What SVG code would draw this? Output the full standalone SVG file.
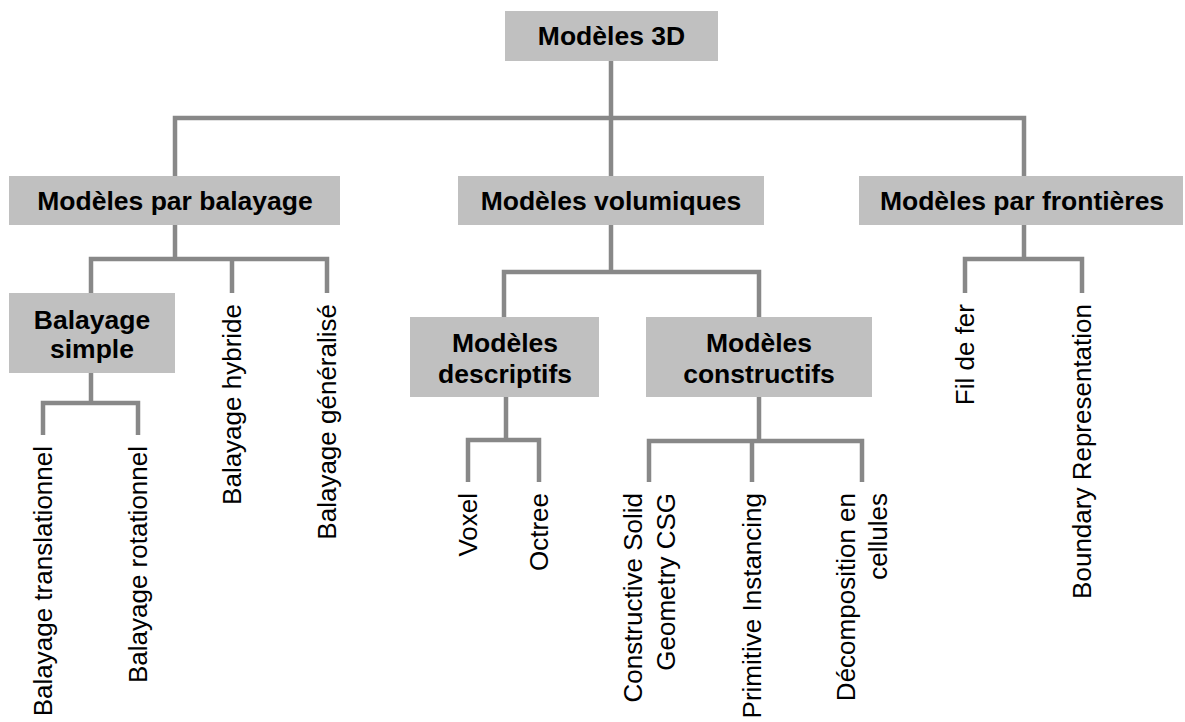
<svg xmlns="http://www.w3.org/2000/svg" width="1185" height="722" viewBox="0 0 1185 722">
  <style>
    .box { fill: #c0c0c0; }
    .title { font-family: "Liberation Sans", Arial, sans-serif; font-size: 26.5px; font-weight: bold; fill: #000; text-anchor: middle; }
    .leaf { font-family: "Liberation Sans", Arial, sans-serif; font-size: 26px; fill: #000; text-anchor: end; }
    .wire { fill: none; stroke: #888888; stroke-width: 4.5; stroke-linecap: butt; stroke-linejoin: miter; }
  </style>
  <rect width="1185" height="722" fill="#ffffff"/>

  <!-- tree connectors -->
  <g id="connectors" class="wire">
    <path d="M611,61 V118 M175,176 V118 H1024 V176 M611,118 V176"/>
    <path d="M175,225 V259 M91,293 V259 H327 V293 M232,259 V293"/>
    <path d="M91,373 V403 M43,435 V403 H138 V435"/>
    <path d="M611,225 V272 M504,317 V272 H759 V317"/>
    <path d="M506,397 V440 M468,482 V440 H539 V482"/>
    <path d="M759,397 V441 M649,482 V441 H862 V482 M752,441 V482"/>
    <path d="M1024,225 V259 M965,293 V259 H1082 V293"/>
  </g>

  <!-- boxed categories -->
  <g id="modeles-3d">
    <rect class="box" x="505" y="11" width="213" height="50"/>
    <text class="title" x="611.5" y="45">Modèles 3D</text>
  </g>
  <g id="modeles-balayage">
    <rect class="box" x="9" y="176" width="331" height="49"/>
    <text class="title" x="175" y="210">Modèles par balayage</text>
  </g>
  <g id="modeles-volumiques">
    <rect class="box" x="458" y="176" width="306" height="49"/>
    <text class="title" x="611" y="210">Modèles volumiques</text>
  </g>
  <g id="modeles-frontieres">
    <rect class="box" x="859" y="176" width="324" height="49"/>
    <text class="title" x="1022" y="210">Modèles par frontières</text>
  </g>
  <g id="balayage-simple">
    <rect class="box" x="9" y="293" width="166" height="80"/>
    <text class="title" x="92" y="329">Balayage</text>
    <text class="title" x="92" y="358">simple</text>
  </g>
  <g id="modeles-descriptifs">
    <rect class="box" x="410" y="317" width="189" height="80"/>
    <text class="title" x="505" y="352">Modèles</text>
    <text class="title" x="505" y="383">descriptifs</text>
  </g>
  <g id="modeles-constructifs">
    <rect class="box" x="646" y="317" width="226" height="80"/>
    <text class="title" x="759" y="352">Modèles</text>
    <text class="title" x="759" y="383">constructifs</text>
  </g>

  <!-- vertical leaf labels -->
  <g id="balayage-translationnel">
    <text class="leaf" transform="translate(52,446) rotate(-90)">Balayage translationnel</text>
  </g>
  <g id="balayage-rotationnel">
    <text class="leaf" transform="translate(147,446) rotate(-90)">Balayage rotationnel</text>
  </g>
  <g id="balayage-hybride">
    <text class="leaf" transform="translate(241,304) rotate(-90)">Balayage hybride</text>
  </g>
  <g id="balayage-generalise">
    <text class="leaf" transform="translate(336,304) rotate(-90)">Balayage généralisé</text>
  </g>
  <g id="voxel">
    <text class="leaf" transform="translate(477,493) rotate(-90)">Voxel</text>
  </g>
  <g id="octree">
    <text class="leaf" transform="translate(548,493) rotate(-90)">Octree</text>
  </g>
  <g id="csg">
    <text class="leaf" transform="translate(642,493) rotate(-90)">Constructive Solid</text>
    <text class="leaf" transform="translate(675,493) rotate(-90)">Geometry CSG</text>
  </g>
  <g id="primitive-instancing">
    <text class="leaf" transform="translate(761,493) rotate(-90)">Primitive Instancing</text>
  </g>
  <g id="decomposition-cellules">
    <text class="leaf" transform="translate(855,493) rotate(-90)">Décomposition en</text>
    <text class="leaf" transform="translate(887,493) rotate(-90)">cellules</text>
  </g>
  <g id="fil-de-fer">
    <text class="leaf" transform="translate(974,304) rotate(-90)">Fil de fer</text>
  </g>
  <g id="boundary-representation">
    <text class="leaf" transform="translate(1091,304) rotate(-90)">Boundary Representation</text>
  </g>
</svg>
